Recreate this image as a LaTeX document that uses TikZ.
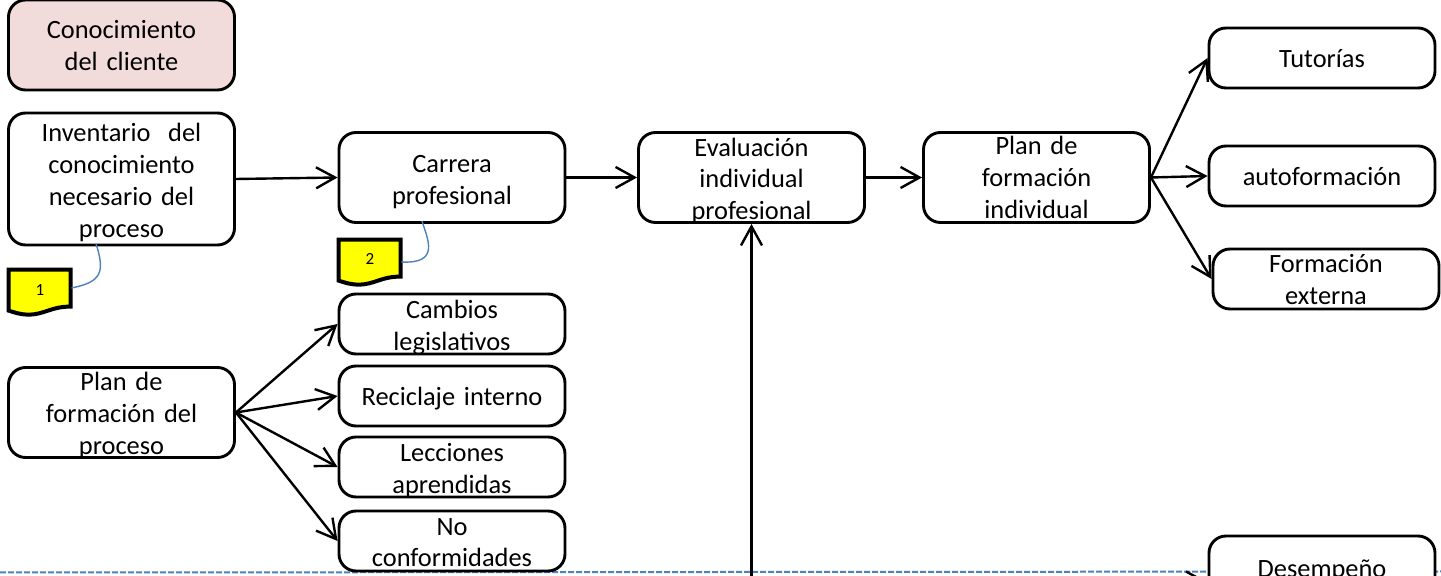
\documentclass[tikz,border=0pt]{standalone}
\usepackage{fontspec}
\setmainfont{Carlito}
\usetikzlibrary{arrows.meta}
\definecolor{noteblue}{HTML}{4F81BD}
\definecolor{pinkfill}{HTML}{F2DCDB}
\definecolor{noteyellow}{HTML}{FFFF00}
\newcommand\boxtext[2][1.7pt]{\raisebox{\dimexpr-#1-3.3pt\relax}[0pt][0pt]{\begin{tabular}[c]{@{}c@{}}#2\end{tabular}}}
\tikzset{
  x=0.5pt,y=-0.5pt,
  boxbase/.style={draw=black,line width=1.45pt,rounded corners=8.5pt,fill=white,inner sep=0pt,align=center,
    font=\fontsize{13.2}{15.9}\selectfont},
  wide/.style={boxbase,minimum width=113pt,minimum height=45pt,text width=110pt},
  slim/.style={boxbase,minimum width=113pt,minimum height=30pt,text width=110pt},
  tall/.style={boxbase,minimum width=113pt,minimum height=66pt,text width=110pt},
  arrowline/.style={draw=black,line width=1.2pt,-{Straight Barb[length=9.5pt,width=10.5pt]}},
  noteline/.style={draw=noteblue,line width=0.7pt},
  notelabel/.style={inner sep=0pt,minimum width=31pt,minimum height=22pt,font=\fontsize{8.5}{10}\selectfont},
  notebody/.style={draw=black,line width=2pt,fill=noteyellow,line join=miter},
}
\begin{document}
\begin{tikzpicture}
\clip (0,0) rectangle (1441,576);
\fill[white] (0,0) rectangle (1441,576);

% dashed separator
\coordinate (dashL) at (0,572.5);
\coordinate (dashR) at (1441,571.5);
\draw[draw=noteblue,line width=1pt,dash pattern=on 3pt off 1pt] (dashL) -- (dashR);

% boxes
\node[wide,fill=pinkfill] (cliente) at (121.5,45) {\boxtext[1.4pt]{Conocimiento\\del cliente}};
\node[tall] (inv) at (121.5,179) {\boxtext{Inventario\ \ del\\conocimiento\\necesario del\\proceso}};
\node[wide] (carrera) at (452,177.5) {\boxtext[2.1pt]{Carrera\\profesional}};
\node[wide] (eval) at (751.5,177.5) {\boxtext{Evaluación\\individual\\profesional}};
\node[wide] (planind) at (1036.5,177.5) {\boxtext[1.1pt]{Plan de\\formación\\individual}};
\node[slim] (tutorias) at (1322,58) {\boxtext[1.1pt]{Tutorías}};
\node[slim] (auto) at (1322,176) {\boxtext[1.3pt]{autoformación}};
\node[slim] (externa) at (1326,279) {\boxtext[1.1pt]{Formación\\externa}};
\node[slim] (cambios) at (452,324) {\boxtext{Cambios\\legislativos}};
\node[slim] (reciclaje) at (452,396) {\boxtext[1.5pt]{Reciclaje interno}};
\node[slim] (lecciones) at (452,467) {\boxtext{Lecciones\\aprendidas}};
\node[slim] (noconf) at (452,541) {\boxtext[1.5pt]{No\\conformidades}};
\node[wide] (planproc) at (121.5,412.5) {\boxtext[1.5pt]{Plan de\\formación del\\proceso}};
\node[wide,minimum height=46pt] (desemp) at (1322,582) {\boxtext[2pt]{Desempeño\\\strut}};

% notes
\node[notelabel] (n1) at (40,292) {};
\node[notelabel] (n2) at (370,262) {};
\foreach \n in {n1,n2}{
  \draw[notebody,shift={(\n.north west)}] (0,0) -- (62,0) -- (62,37)
    .. controls (42,37) and (36,45) .. (20,45)
    .. controls (12,45) and (6,43) .. (0,41) -- cycle;
}
\node[notelabel,yshift=1pt] at (n1) {1};
\node[notelabel,yshift=1.5pt] at (n2) {2};

% connectors
\draw[arrowline] (inv.east) -- (carrera.west);
\draw[arrowline] (carrera.east) -- (eval.west);
\draw[arrowline] (eval.east) -- (planind.west);
\draw[arrowline] (planind.east) -- (tutorias.west);
\draw[arrowline] (planind.east) -- (auto.west);
\draw[arrowline] (planind.east) -- (externa.west);
\draw[arrowline] (planproc.east) -- (cambios.west);
\draw[arrowline] (planproc.east) -- (reciclaje.west);
\draw[arrowline] (planproc.east) -- (lecciones.west);
\draw[arrowline] (planproc.east) -- (noconf.west);
\coordinate (evalfoot) at (751.5,600);
\draw[arrowline] (evalfoot) -- (eval.south);
\coordinate (despfoot) at (1150,582);
\draw[arrowline] (despfoot) -- (desemp.west);

% note leaders
\coordinate (invfoot) at (96,243.5);
\coordinate (carfoot) at (422,221);
\draw[noteline] (invfoot) .. controls (105,272) and (102,282) .. (n1.east |- 0,288);
\draw[noteline] (carfoot) .. controls (428,240) and (440,264) .. (n2.east |- 0,262);
\end{tikzpicture}
\end{document}
